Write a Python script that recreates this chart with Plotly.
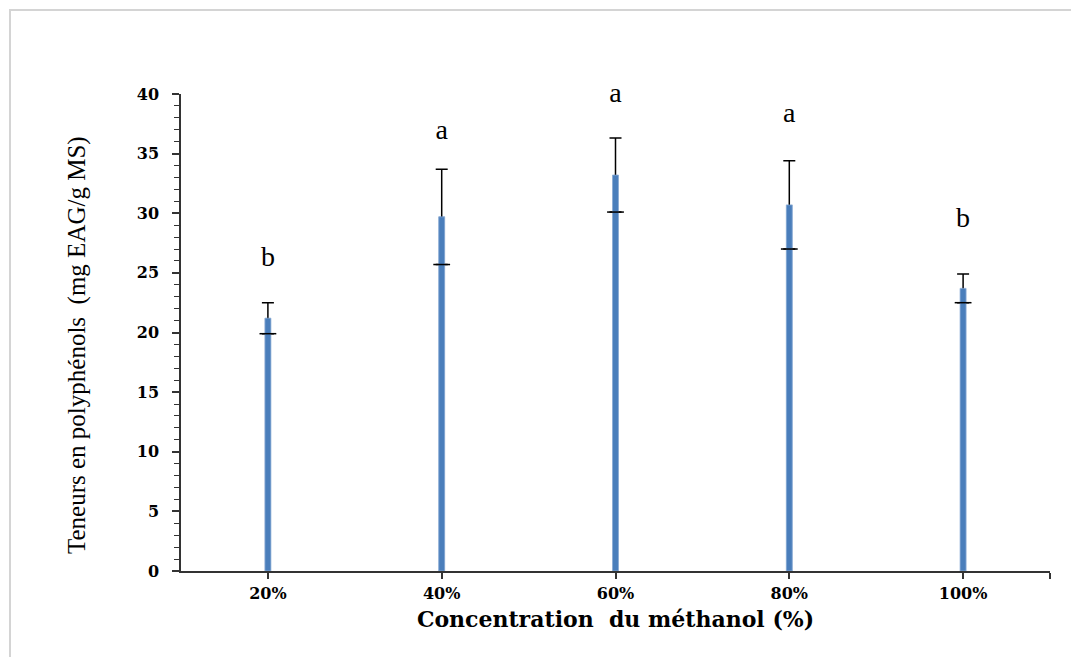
import plotly.graph_objects as go

categories = ["20%", "40%", "60%", "80%", "100%"]
means = [21.2, 29.7, 33.2, 30.7, 23.7]
errors = [1.3, 4.0, 3.1, 3.7, 1.2]
letters = ["b", "a", "a", "a", "b"]
letter_y = [26.2, 36.8, 39.9, 38.2, 29.4]

xpos = list(range(len(categories)))
lower = [m - e for m, e in zip(means, errors)]

BAR = "#4a7ebb"
fig = go.Figure()
# bar with full error bars (stem will be hidden by overlay bar)
fig.add_trace(go.Bar(
    x=xpos, y=means, width=0.034,
    marker=dict(color=BAR, line=dict(color="#9db8dc", width=0.6)),
    error_y=dict(type="data", array=errors, symmetric=True,
                 color="black", thickness=1.5, width=6),
    showlegend=False, hoverinfo="skip"))
# overlay bar hides stem inside bar
fig.add_trace(go.Bar(
    x=xpos, y=means, width=0.034,
    marker=dict(color=BAR, line=dict(color="#9db8dc", width=0.6)),
    showlegend=False, hoverinfo="skip"))
# lower caps crossing the bar
fig.add_trace(go.Scatter(
    x=xpos, y=lower, mode="markers",
    marker=dict(symbol="line-ew", size=12, line=dict(color="black", width=1.5)),
    showlegend=False, hoverinfo="skip"))
# significance letters
fig.add_trace(go.Scatter(
    x=xpos, y=letter_y, mode="text", text=letters, cliponaxis=False,
    textfont=dict(family="Liberation Serif", size=28, color="black"),
    showlegend=False, hoverinfo="skip"))

fig.update_layout(
    width=1071, height=657,
    margin=dict(l=181, r=21, t=94, b=86),
    paper_bgcolor="white", plot_bgcolor="white",
    barmode="overlay",
    xaxis=dict(
        range=[-0.5, 4.5], tickvals=xpos + [4.5], ticktext=categories + [""],
        showgrid=False, zeroline=False, showline=True, linecolor="#333333", linewidth=1.5,
        ticks="outside", ticklen=6, tickcolor="#333333", tickwidth=1.5,
        tickfont=dict(family="DejaVu Serif", size=16, color="black", weight="bold"),
        ticklabelstandoff=1,
        title=dict(text="Concentration  du méthanol (%)", standoff=10,
                   font=dict(family="DejaVu Serif", size=22, color="black", weight="bold")),
    ),
    yaxis=dict(
        range=[0, 40], tickvals=[0, 5, 10, 15, 20, 25, 30, 35, 40],
        showgrid=False, zeroline=False, showline=True, linecolor="#333333", linewidth=1.5,
        ticks="outside", ticklen=7, tickcolor="#333333", tickwidth=1.5,
        minor=dict(dtick=1, ticks="outside", ticklen=5, tickcolor="#333333", tickwidth=1.2),
        tickfont=dict(family="DejaVu Serif", size=16, color="black", weight="bold"),
        ticklabelstandoff=10,
    ),
    annotations=[dict(text="Teneurs en polyphénols  (mg EAG/g MS)",
                      xref="paper", yref="paper", x=(77 - 181) / 869, y=(571 - 345) / 477,
                      xanchor="center", yanchor="middle", textangle=-90, showarrow=False,
                      font=dict(family="Liberation Serif", size=25, color="black"))],
    shapes=[dict(type="rect", xref="paper", yref="paper",
                 x0=(10 - 181) / 869, x1=1.2, y0=-0.3, y1=(571 - 10) / 477,
                 line=dict(color="#d4d4d4", width=2), fillcolor="rgba(0,0,0,0)",
                 layer="below")],
)

fig.write_html("out.html")
